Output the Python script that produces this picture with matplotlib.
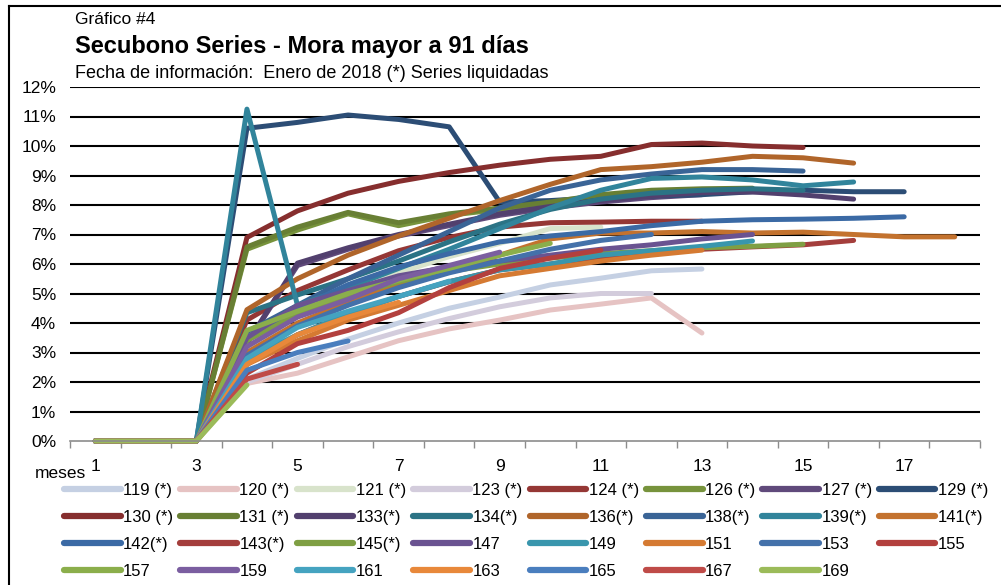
import matplotlib
matplotlib.use('Agg')
import matplotlib.pyplot as plt
from matplotlib.lines import Line2D
from matplotlib.ticker import FixedLocator, FuncFormatter

plt.rcParams['font.family'] = ['Liberation Sans', 'DejaVu Sans']

# mora > 91 dias (%) por mes desde la emision
s119 = [0, 0, 0, 2.1, 2.8, 3.45, 4.0, 4.5, 4.88, 5.29, 5.52, 5.77, 5.83]
s120 = [0, 0, 0, 1.95, 2.3, 2.85, 3.4, 3.8, 4.1, 4.44, 4.64, 4.85, 3.66]
s121 = [0, 0, 0, 3.0, 4.3, 5.1, 5.7, 6.25, 6.7, 7.2, 7.25]
s123 = [0, 0, 0, 2.0, 2.6, 3.2, 3.7, 4.15, 4.55, 4.85, 5.0, 5.0]
s124 = [0, 0, 0, 4.1, 5.1, 5.8, 6.45, 6.9, 7.25, 7.4, 7.42, 7.45, 7.45]
s126 = [0, 0, 0, 6.5, 7.15, 7.7, 7.3, 7.65, 7.85, 8.05]
s127 = [0, 0, 0, 3.3, 5.95, 6.5, 6.95, 7.3, 7.65, 7.9, 8.1, 8.25, 8.35]
s129 = [0, 0, 0, 10.6, 10.8, 11.05, 10.9, 10.65, 8.1, 8.15, 8.25, 8.3, 8.35, 8.45, 8.5, 8.45, 8.45]
s130 = [0, 0, 0, 6.9, 7.8, 8.4, 8.8, 9.1, 9.35, 9.55, 9.65, 10.05, 10.1, 10.0, 9.95]
s131 = [0, 0, 0, 6.58, 7.25, 7.75, 7.4, 7.7, 7.9, 8.1, 8.35, 8.5, 8.55, 8.57]
s133 = [0, 0, 0, 3.3, 6.03, 6.55, 7.0, 7.35, 7.7, 7.95, 8.15, 8.3, 8.42, 8.44, 8.34, 8.2]
s134 = [0, 0, 0, 4.35, 4.95, 5.5, 6.1, 6.75, 7.35, 7.85, 8.2, 8.4, 8.5, 8.55, 8.5]
s136 = [0, 0, 0, 4.45, 5.5, 6.3, 6.95, 7.55, 8.15, 8.7, 9.2, 9.3, 9.45, 9.65, 9.6, 9.42]
s138 = [0, 0, 0, 3.7, 4.6, 5.5, 6.3, 7.1, 7.9, 8.5, 8.85, 9.05, 9.2, 9.2, 9.15]
s139 = [0, 0, 0, 11.25, 4.6, 5.2, 5.85, 6.5, 7.2, 7.9, 8.5, 8.9, 8.95, 8.85, 8.65, 8.78]
s141 = [0, 0, 0, 3.0, 4.0, 4.7, 5.3, 5.8, 6.3, 6.85, 7.05, 7.05, 7.1, 7.05, 7.08, 7.0, 6.92, 6.92]
s142 = [0, 0, 0, 3.5, 4.5, 5.3, 5.9, 6.35, 6.75, 6.95, 7.1, 7.3, 7.45, 7.5, 7.52, 7.55, 7.6]
s143 = [0, 0, 0, 2.6, 3.6, 4.3, 4.9, 5.4, 5.8, 6.0, 6.2, 6.35, 6.5, 6.58, 6.65, 6.8]
s145 = [0, 0, 0, 3.4, 4.3, 4.9, 5.4, 5.75, 6.0, 6.2, 6.35, 6.45, 6.55, 6.6, 6.67]
s147 = [0, 0, 0, 3.5, 4.6, 5.1, 5.6, 5.9, 6.1, 6.3, 6.5, 6.65, 6.85, 7.0]
s149 = [0, 0, 0, 2.8, 3.6, 4.3, 4.9, 5.4, 5.8, 6.0, 6.3, 6.45, 6.6, 6.78]
s151 = [0, 0, 0, 2.6, 3.4, 4.1, 4.6, 5.1, 5.6, 5.85, 6.1, 6.3, 6.47]
s153 = [0, 0, 0, 2.9, 3.9, 4.6, 5.2, 5.7, 6.1, 6.5, 6.8, 7.0]
s155 = [0, 0, 0, 2.3, 3.3, 3.75, 4.35, 5.2, 5.85, 6.2, 6.47]
s157 = [0, 0, 0, 3.75, 4.4, 5.0, 5.45, 5.85, 6.3, 6.7]
s159 = [0, 0, 0, 3.2, 4.2, 4.8, 5.5, 5.95, 6.4]
s161 = [0, 0, 0, 2.8, 3.85, 4.4, 4.9, 5.42]
s163 = [0, 0, 0, 2.6, 3.6, 4.2, 4.7]
s165 = [0, 0, 0, 2.4, 3.0, 3.39]
s167 = [0, 0, 0, 2.1, 2.6]
s169 = [0, 0, 0, 1.9]

labels = ['119 (*)', '120 (*)', '121 (*)', '123 (*)', '124 (*)', '126 (*)', '127 (*)', '129 (*)',
          '130 (*)', '131 (*)', '133(*)', '134(*)', '136(*)', '138(*)', '139(*)', '141(*)',
          '142(*)', '143(*)', '145(*)', '147', '149', '151', '153', '155',
          '157', '159', '161', '163', '165', '167', '169']
series = [s119, s120, s121, s123, s124, s126, s127, s129,
          s130, s131, s133, s134, s136, s138, s139, s141,
          s142, s143, s145, s147, s149, s151, s153, s155,
          s157, s159, s161, s163, s165, s167, s169]
colors = ['#C5D0E3', '#E6C3C3', '#D8E3CB', '#D3CCDC', '#953735', '#77933C', '#604A7B', '#2C4D75',
          '#862E2E', '#687F34', '#52406E', '#2B7385', '#B0652A', '#3A6496', '#31849B', '#C3722E',
          '#3B6AA5', '#A43E3C', '#7F9F43', '#6A5391', '#3996AD', '#D57A32', '#4471AA', '#B3403E',
          '#8BAE4B', '#7B5EA0', '#45A3C0', '#E8883A', '#4A7EBE', '#BF4B48', '#9BBB59']
month_ticks = [1, 3, 5, 7, 9, 11, 13, 15, 17]

fig = plt.figure(figsize=(10.01, 5.85), dpi=100)
ax = fig.add_axes([70 / 1001, 1 - 441 / 585, 910 / 1001, 354 / 585])

handles = []
for vals, lab, col in zip(series, labels, colors):
    months = list(range(1, len(vals) + 1))
    ln, = ax.plot(months, vals, color=col, lw=3.6, solid_capstyle='round',
                  solid_joinstyle='round', label=lab, clip_on=False)
    handles.append(ln)

ax.set_xlim(0.5, 18.5)
ax.set_ylim(0, 12)
ax.yaxis.set_major_locator(FixedLocator(range(0, 13)))
ax.yaxis.set_major_formatter(FuncFormatter(lambda v, p: '%d%%' % v))
ax.xaxis.set_major_locator(FixedLocator(month_ticks))
ax.xaxis.set_minor_locator(FixedLocator([i + 0.5 for i in range(0, 19)]))
ax.tick_params(axis='y', length=0, pad=10, labelsize=12.5)
ax.tick_params(axis='x', which='major', length=0, pad=13, labelsize=12.5)
ax.tick_params(axis='x', which='minor', length=5, width=1, color='#8C8C8C', direction='out')

for v in range(1, 13):
    ax.axhline(v, color='black', lw=1.5, zorder=0.5)
for s in ['left', 'right', 'top']:
    ax.spines[s].set_visible(False)
ax.spines['bottom'].set_color('#8C8C8C')
ax.spines['bottom'].set_linewidth(1.2)

fig.text(0.06, 1 - 474 / 585, 'meses', ha='center', va='center', fontsize=12.5)
fig.text(75 / 1001, 1 - 20 / 585, 'Gráfico #4', ha='left', va='center', fontsize=12.5)
fig.text(75 / 1001, 1 - 47 / 585, 'Secubono Series - Mora mayor a 91 días', ha='left',
         va='center', fontsize=17, fontweight='bold')
fig.text(75 / 1001, 1 - 73 / 585, 'Fecha de información:  Enero de 2018 (*) Series liquidadas',
         ha='left', va='center', fontsize=13)

# leyenda en orden por filas (matplotlib llena por columnas)
ncol = 8
order = [r * ncol + c for c in range(ncol) for r in range(4) if r * ncol + c < len(handles)]
leg_handles = [Line2D([], [], color=colors[i], lw=4.5, solid_capstyle='round') for i in order]
fig.legend(leg_handles, [labels[i] for i in order], ncol=ncol, loc='upper left',
           bbox_to_anchor=(64 / 1001, 1 - 483 / 585), frameon=False, fontsize=12,
           handlelength=3.4, handletextpad=0.15, columnspacing=0.42, labelspacing=0.72,
           borderaxespad=0, borderpad=0)

fig.add_artist(Line2D([9 / 1001, 9 / 1001], [0, 1 - 6 / 585], color='black', lw=1.5,
                      transform=fig.transFigure))
fig.add_artist(Line2D([9 / 1001, 1], [1 - 6 / 585, 1 - 6 / 585], color='black', lw=1.5,
                      transform=fig.transFigure))

fig.savefig('out.png', dpi=100, facecolor='white')
